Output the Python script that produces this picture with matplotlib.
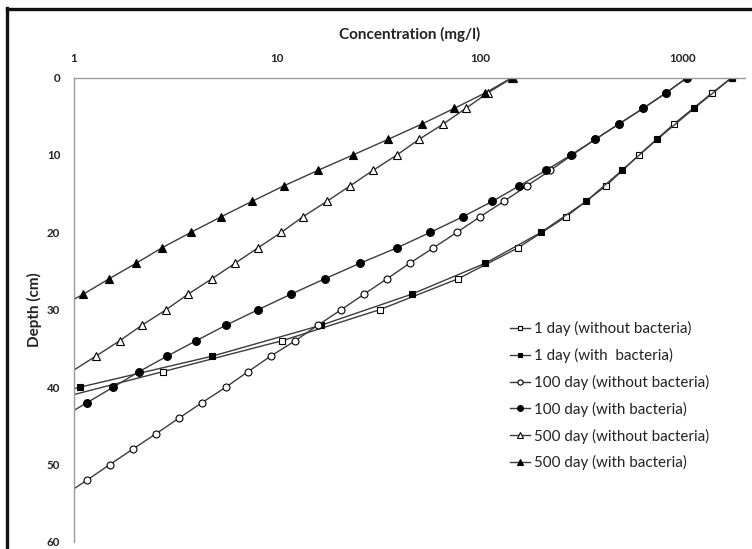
import matplotlib
matplotlib.use("Agg")
import matplotlib.pyplot as plt
from matplotlib.lines import Line2D
import numpy as np

# ---------------- data ----------------
labels = ["1 day (without bacteria)", "1 day (with  bacteria)",
          "100 day (without bacteria)", "100 day (with bacteria)",
          "500 day (without bacteria)", "500 day (with bacteria)"]

depth_1d_wo = [0, 2, 6, 10, 14, 18, 22, 26, 30, 34, 38, 42]
conc_1d_wo = [1743, 1390, 903, 607, 417, 265, 154, 78, 32, 10.6, 2.74, 0.7]

depth_1d_w = [0, 4, 8, 12, 16, 20, 24, 28, 32, 36, 40, 44]
conc_1d_w = [1743, 1133, 745, 500, 333, 200, 106, 46, 16.5, 4.79, 1.07, 0.25]

depth_100d_wo = list(range(0, 56, 2))
conc_100d_wo = [1050, 824, 635, 484, 369, 285, 222, 170, 131, 100, 77, 59, 45, 34.8,
                26.8, 20.7, 15.9, 12.3, 9.3, 7.2, 5.6, 4.27, 3.29, 2.54, 1.95, 1.5, 1.16, 0.89]

depth_100d_w = list(range(0, 46, 2))
conc_100d_w = [1050, 824, 635, 484, 369, 281, 211, 156, 115, 82, 57, 39, 25.6, 17.2,
               11.7, 8.06, 5.6, 4.0, 2.87, 2.09, 1.56, 1.16, 0.86]

depth_500d_wo = list(range(0, 40, 2))
conc_500d_wo = [145, 109, 85, 66, 50, 39, 29.7, 22.9, 17.6, 13.4, 10.5, 8.06, 6.21, 4.78,
                3.64, 2.84, 2.16, 1.68, 1.28, 0.97]

depth_500d_w = list(range(0, 32, 2))
conc_500d_w = [144, 106, 74.5, 51.8, 35.2, 23.7, 15.9, 10.8, 7.53, 5.3, 3.77, 2.71, 2.02,
               1.49, 1.11, 0.8]

x_ticks = [1, 10, 100, 1000]
x_tick_labels = ["1", "10", "100", "1000"]
y_ticks = [0, 10, 20, 30, 40, 50, 60]

# (x, y, marker, face colour, marker size)
series = [
    (conc_1d_wo, depth_1d_wo, "s", "white", 4.5),
    (conc_1d_w, depth_1d_w, "s", "black", 4.5),
    (conc_100d_wo, depth_100d_wo, "o", "white", 5.0),
    (conc_100d_w, depth_100d_w, "o", "black", 5.6),
    (conc_500d_wo, depth_500d_wo, "^", "white", 5.4),
    (conc_500d_w, depth_500d_w, "^", "black", 6.2),
]

# ---------------- figure ----------------
plt.rcParams["font.family"] = ["Lato", "DejaVu Sans"]
W, H = 752, 549
fig = plt.figure(figsize=(W / 100, H / 100), dpi=100)
left_px, right_px, top_px, bot_px = 74, 745, 77.5, 542
ax = fig.add_axes([left_px / W, 1 - bot_px / H, (right_px - left_px) / W, (bot_px - top_px) / H])

line_col = "#3c3c3c"
for (x, y, m, fc, ms), lab in zip(series, labels):
    mask = [v >= 1 for v in x]
    ax.plot(x, y, color=line_col, lw=1.0, marker=m, markersize=ms,
            markerfacecolor=fc, markeredgecolor="black", markeredgewidth=0.8,
            markevery=mask, label=lab)

ax.set_xscale("log")
ax.set_xlim(1, 10 ** ((right_px - left_px) / 203.0))
ax.set_ylim(60, 0)

ax.xaxis.set_ticks_position("top")
ax.xaxis.set_label_position("top")
ax.set_xticks(x_ticks)
ax.set_xticklabels(x_tick_labels)
ax.xaxis.set_minor_locator(matplotlib.ticker.NullLocator())
ax.set_yticks(y_ticks)
ax.tick_params(axis="x", length=0, pad=10, labelsize=8.3, labelcolor="#222222")
ax.tick_params(axis="y", length=0, pad=10, labelsize=8.3, labelcolor="#222222")
for t in ax.get_xticklabels() + ax.get_yticklabels():
    t.set_fontweight("bold")

ax.set_xlabel("Concentration (mg/l)", fontsize=11, fontweight="bold", labelpad=10, color="#222222")
ax.set_ylabel("Depth (cm)", fontsize=11, fontweight="bold", color="#222222")
ax.yaxis.set_label_coords(-0.0477, 0.5)

for s in ["right", "bottom"]:
    ax.spines[s].set_visible(False)
for s in ["left", "top"]:
    ax.spines[s].set_color("#9a9a9a")
    ax.spines[s].set_linewidth(1.0)

leg = ax.legend(loc="upper left", bbox_to_anchor=(510 / W, 1 - 321 / H),
                bbox_transform=fig.transFigure, frameon=False, fontsize=10.9,
                handlelength=1.35, handletextpad=0.25, labelspacing=0.78,
                markerscale=0.75, borderpad=0, borderaxespad=0)
for t in leg.get_texts():
    t.set_color("#222222")

# outer frame (thick left & top border)
fig.add_artist(Line2D([7 / W, 7 / W], [0, 1 - 8 / H], transform=fig.transFigure,
                      color="#111111", lw=2.4))
fig.add_artist(Line2D([7 / W, 1], [1 - 9 / H, 1 - 9 / H], transform=fig.transFigure,
                      color="#111111", lw=2.4))

fig.savefig("out.png", dpi=100)
